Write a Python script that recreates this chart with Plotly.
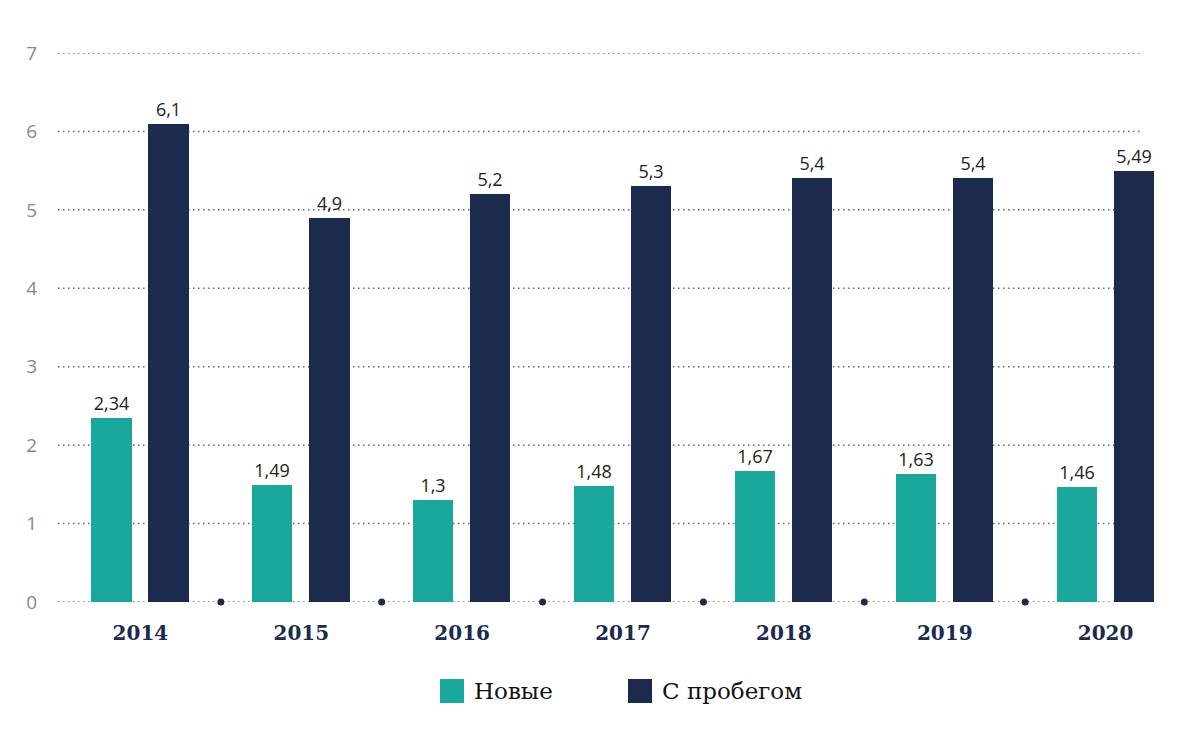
import plotly.graph_objects as go

years = ["2014", "2015", "2016", "2017", "2018", "2019", "2020"]
new_cars = [2.34, 1.49, 1.3, 1.48, 1.67, 1.63, 1.46]
used_cars = [6.1, 4.9, 5.2, 5.3, 5.4, 5.4, 5.49]
series_names = ["Новые", "С пробегом"]
y_ticks = [0, 1, 2, 3, 4, 5, 6, 7]

TEAL = "#1aa89d"
NAVY = "#1c2a4e"
OFF = 8  # page body margin
W, H = 1200 - 2 * OFF, 742 - 2 * OFF
ML, MT = 60 - OFF, 53 - OFF
MB = H - (602 - OFF)
MR = W - (1186 - OFF)
plot_w = W - ML - MR
plot_h = H - MT - MB

def pxx(x_page):
    return (x_page - OFF - ML) / plot_w

def pxy(y_page):
    return (H - MB - (y_page - OFF)) / plot_h

def fmt(v):
    return ("%g" % v).replace(".", ",")

xs = list(range(len(years)))
fig = go.Figure()
lab_font = dict(family="Open Sans, sans-serif", size=18, color="#222222")
fig.add_trace(go.Bar(
    x=xs, y=new_cars, width=0.25, offset=-0.305,
    marker=dict(color=TEAL, line=dict(width=0)),
    text=[fmt(v) for v in new_cars], textposition="outside", textfont=lab_font,
    cliponaxis=False, name=series_names[0], showlegend=False,
))
fig.add_trace(go.Bar(
    x=xs, y=used_cars, width=0.25, offset=0.05,
    marker=dict(color=NAVY, line=dict(width=0)),
    text=[fmt(v) for v in used_cars], textposition="outside", textfont=lab_font,
    cliponaxis=False, name=series_names[1], showlegend=False,
))
# separator dots between year groups
fig.add_trace(go.Scatter(
    x=[i + 0.5 for i in xs[:-1]], y=[0] * (len(xs) - 1), mode="markers",
    marker=dict(color=NAVY, size=7), showlegend=False, cliponaxis=False,
    hoverinfo="skip",
))

# dotted gridlines (shorter than the axis)
for t in y_ticks:
    fig.add_shape(type="line", xref="paper", yref="y", x0=pxx(58), x1=pxx(1143), y0=t, y1=t,
                  line=dict(color="#666666", width=1.5, dash="1.5px,3.5px"), layer="below")

# legend
leg = [(440, TEAL, series_names[0]), (628, NAVY, series_names[1])]
for px, col, name in leg:
    fig.add_shape(type="rect", xref="paper", yref="paper", x0=pxx(px), x1=pxx(px + 24),
                  y0=pxy(703), y1=pxy(679), fillcolor=col, line=dict(width=0))
    fig.add_annotation(xref="paper", yref="paper", x=pxx(px + 32), y=pxy(691),
                       text=name, showarrow=False, xanchor="left", yanchor="middle",
                       font=dict(family="DejaVu Serif, serif", size=23, color="#111111"))

fig.update_layout(
    width=W, height=H, margin=dict(l=ML, r=MR, t=MT, b=MB),
    plot_bgcolor="white", paper_bgcolor="white", bargap=0,
    xaxis=dict(range=[-0.5, len(years) - 0.5], tickvals=xs, ticktext=years,
               showgrid=False, zeroline=False, showline=False, ticks="",
               tickfont=dict(family="DejaVu Serif, serif", size=20, color=NAVY, weight="bold"),
               ticklabelstandoff=17),
    yaxis=dict(range=[0, 7], tickvals=y_ticks, showgrid=False, zeroline=False,
               showline=False, ticks="", ticklabelstandoff=22,
               tickfont=dict(family="Open Sans, sans-serif", size=19, color="#888888")),
)

fig.write_html("out.html")
